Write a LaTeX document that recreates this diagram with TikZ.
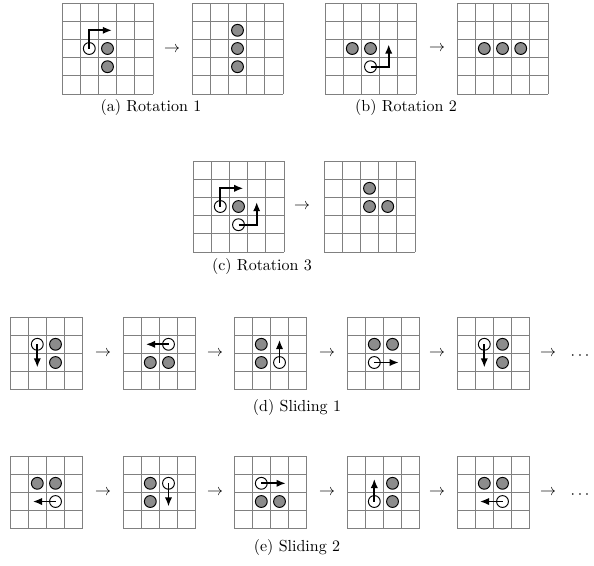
\documentclass[tikz,border=0pt]{standalone}
\usetikzlibrary{arrows.meta}
\newcommand{\gridlines}[1]{\foreach \k in {0,...,#1}{\draw[gridline] (\k,0) -- (\k,#1); \draw[gridline] (0,\k) -- (#1,\k);}}
\begin{document}
\begin{tikzpicture}[x=0.625pt,y=-0.625pt,
  board/.style={x=11.375pt,y=-11.375pt},
  gridline/.style={draw=black!50,line width=0.5pt},
  stone/.style={circle,draw=black,line width=0.6pt,fill=black!45,minimum size=7.4pt,inner sep=0pt},
  hole/.style={circle,draw=black,line width=0.6pt,fill=white,minimum size=7.4pt,inner sep=0pt},
  move/.style={line width=1.2pt,-{Latex[length=5.8pt,width=4.6pt]}},
  trans/.style={inner sep=0pt},
  captext/.style={inner sep=0pt}]
\useasboundingbox (0,0) rectangle (594,565);

% (a)
\begin{scope}[shift={(62,3)},board]
  \gridlines{5}
  \node[stone] (a1s1) at (2.5,2.5) {};
  \node[stone] (a1s2) at (2.5,3.5) {};
  \node[hole] (a1h) at (1.5,2.5) {};
  \draw[move] (a1h.center) |- (2.75,1.5);
\end{scope}
\node[trans] (ta) at (172,50) {$\rightarrow$};
\begin{scope}[shift={(192,3)},board]
  \gridlines{5}
  \node[stone] (a2s1) at (2.5,1.5) {};
  \node[stone] (a2s2) at (2.5,2.5) {};
  \node[stone] (a2s3) at (2.5,3.5) {};
\end{scope}
\node[captext] (capa) at (151,107) {(a) Rotation 1};

% (b)
\begin{scope}[shift={(325,3)},board]
  \gridlines{5}
  \node[stone] (b1s1) at (1.5,2.5) {};
  \node[stone] (b1s2) at (2.5,2.5) {};
  \node[hole] (b1h) at (2.5,3.5) {};
  \draw[move] (b1h.center) -| (3.5,2.27);
\end{scope}
\node[trans] (tb) at (437,49) {$\rightarrow$};
\begin{scope}[shift={(457,3)},board]
  \gridlines{5}
  \node[stone] (b2s1) at (1.5,2.5) {};
  \node[stone] (b2s2) at (2.5,2.5) {};
  \node[stone] (b2s3) at (3.5,2.5) {};
\end{scope}
\node[captext] (capb) at (406,107) {(b) Rotation 2};

% (c)
\begin{scope}[shift={(193,161)},board]
  \gridlines{5}
  \node[stone] (c1s1) at (2.5,2.5) {};
  \node[hole] (c1h1) at (1.5,2.5) {};
  \node[hole] (c1h2) at (2.5,3.5) {};
  \draw[move] (c1h1.center) |- (2.77,1.5);
  \draw[move] (c1h2.center) -| (3.5,2.25);
\end{scope}
\node[trans] (tc) at (302,207) {$\rightarrow$};
\begin{scope}[shift={(324,161)},board]
  \gridlines{5}
  \node[stone] (c2s1) at (2.5,1.5) {};
  \node[stone] (c2s2) at (2.5,2.5) {};
  \node[stone] (c2s3) at (3.5,2.5) {};
\end{scope}
\node[captext] (capc) at (262,266) {(c) Rotation 3};

% (d)
\begin{scope}[shift={(10,317)},board]
  \gridlines{4}
  \node[stone] (d1s1) at (2.5,1.5) {};
  \node[stone] (d1s2) at (2.5,2.5) {};
  \node[hole] (d1h) at (1.5,1.5) {};
  \draw[move] (d1h.center) -- (1.5,2.78);
\end{scope}
\begin{scope}[shift={(123,317)},board]
  \gridlines{4}
  \node[stone] (d2s1) at (1.5,2.5) {};
  \node[stone] (d2s2) at (2.5,2.5) {};
  \node[hole] (d2h) at (2.5,1.5) {};
  \draw[move] (d2h.center) -- (1.25,1.5);
\end{scope}
\begin{scope}[shift={(234,317)},board]
  \gridlines{4}
  \node[stone] (d3s1) at (1.5,1.5) {};
  \node[stone] (d3s2) at (1.5,2.5) {};
  \node[hole] (d3h) at (2.5,2.5) {};
  \draw[move] (d3h.center) -- (2.5,1.25);
\end{scope}
\begin{scope}[shift={(347,317)},board]
  \gridlines{4}
  \node[stone] (d4s1) at (1.5,1.5) {};
  \node[stone] (d4s2) at (2.5,1.5) {};
  \node[hole] (d4h) at (1.5,2.5) {};
  \draw[move] (d4h.center) -- (2.85,2.5);
\end{scope}
\begin{scope}[shift={(457,317)},board]
  \gridlines{4}
  \node[stone] (d5s1) at (2.5,1.5) {};
  \node[stone] (d5s2) at (2.5,2.5) {};
  \node[hole] (d5h) at (1.5,1.5) {};
  \draw[move] (d5h.center) -- (1.5,2.78);
\end{scope}
\node[trans] (td1) at (103,354) {$\rightarrow$};
\node[trans] (td2) at (215,354) {$\rightarrow$};
\node[trans] (td3) at (327,354) {$\rightarrow$};
\node[trans] (td4) at (437,354) {$\rightarrow$};
\node[trans] (td5) at (548,354) {$\rightarrow$};
\node[trans] (dd) at (580,356) {$\cdots$};
\node[captext] (capd) at (297,407) {(d) Sliding 1};

% (e)
\begin{scope}[shift={(10,456)},board]
  \gridlines{4}
  \node[stone] (e1s1) at (1.5,1.5) {};
  \node[stone] (e1s2) at (2.5,1.5) {};
  \node[hole] (e1h) at (2.5,2.5) {};
  \draw[move] (e1h.center) -- (1.25,2.5);
\end{scope}
\begin{scope}[shift={(123,456)},board]
  \gridlines{4}
  \node[stone] (e2s1) at (1.5,1.5) {};
  \node[stone] (e2s2) at (1.5,2.5) {};
  \node[hole] (e2h) at (2.5,1.5) {};
  \draw[move] (e2h.center) -- (2.5,2.78);
\end{scope}
\begin{scope}[shift={(234,456)},board]
  \gridlines{4}
  \node[stone] (e3s1) at (1.5,2.5) {};
  \node[stone] (e3s2) at (2.5,2.5) {};
  \node[hole] (e3h) at (1.5,1.5) {};
  \draw[move] (e3h.center) -- (2.85,1.5);
\end{scope}
\begin{scope}[shift={(347,456)},board]
  \gridlines{4}
  \node[stone] (e4s1) at (2.5,1.5) {};
  \node[stone] (e4s2) at (2.5,2.5) {};
  \node[hole] (e4h) at (1.5,2.5) {};
  \draw[move] (e4h.center) -- (1.5,1.25);
\end{scope}
\begin{scope}[shift={(457,456)},board]
  \gridlines{4}
  \node[stone] (e5s1) at (1.5,1.5) {};
  \node[stone] (e5s2) at (2.5,1.5) {};
  \node[hole] (e5h) at (2.5,2.5) {};
  \draw[move] (e5h.center) -- (1.25,2.5);
\end{scope}
\node[trans] (te1) at (103,493) {$\rightarrow$};
\node[trans] (te2) at (215,493) {$\rightarrow$};
\node[trans] (te3) at (327,493) {$\rightarrow$};
\node[trans] (te4) at (437,493) {$\rightarrow$};
\node[trans] (te5) at (548,493) {$\rightarrow$};
\node[trans] (ed) at (580,495) {$\cdots$};
\node[captext] (cape) at (297,547) {(e) Sliding 2};
\end{tikzpicture}
\end{document}
